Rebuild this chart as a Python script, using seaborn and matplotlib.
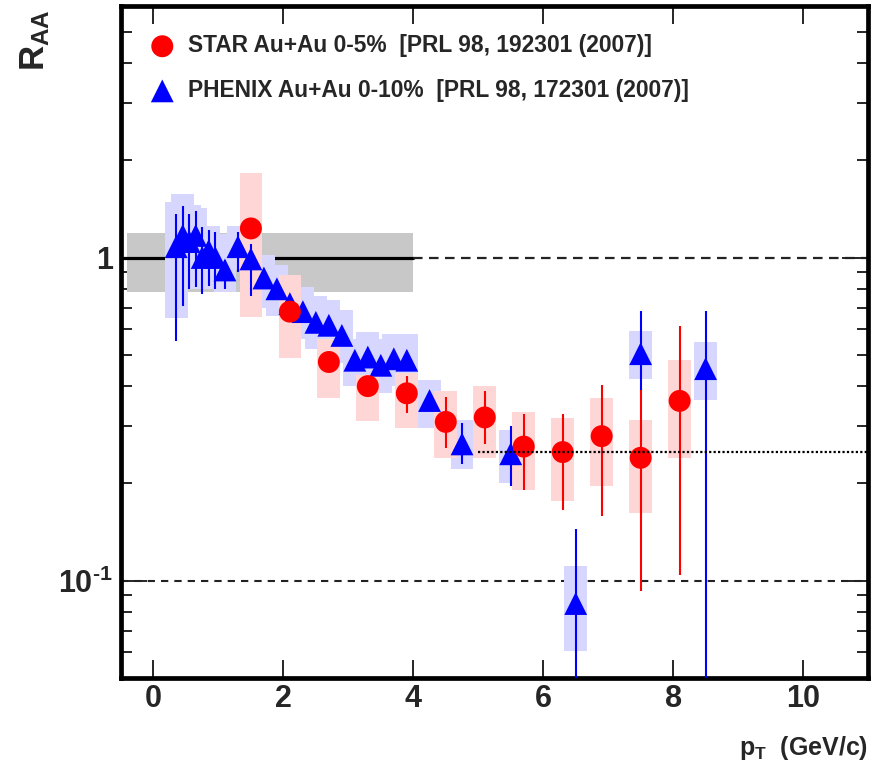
import numpy as np
import matplotlib
matplotlib.use("Agg")
import matplotlib.pyplot as plt
import seaborn as sns
from matplotlib import font_manager
from matplotlib.ticker import LogLocator, NullFormatter, FixedLocator, MultipleLocator, NullLocator

# ---- STAR Au+Au 0-5% ----
star_pt = [1.5, 2.1, 2.7, 3.3, 3.9, 4.5, 5.1, 5.7, 6.3, 6.9, 7.5, 8.1]
star_raa = [1.23, 0.68, 0.475, 0.40, 0.38, 0.31, 0.32, 0.26, 0.25, 0.28, 0.24, 0.36]
star_stat_lo = [1.19, 0.66, 0.46, 0.385, 0.33, 0.258, 0.265, 0.191, 0.166, 0.158, 0.093, 0.104]
star_stat_hi = [1.27, 0.70, 0.49, 0.41, 0.43, 0.369, 0.386, 0.327, 0.327, 0.404, 0.39, 0.613]
star_sys_lo = [0.656, 0.489, 0.368, 0.311, 0.297, 0.24, 0.24, 0.191, 0.177, 0.196, 0.162, 0.24]
star_sys_hi = [1.83, 0.88, 0.56, 0.434, 0.44, 0.386, 0.40, 0.332, 0.319, 0.368, 0.315, 0.483]

# ---- PHENIX Au+Au 0-10% ----
phx_pt = [0.35, 0.45, 0.55, 0.65, 0.75, 0.85, 0.95, 1.1, 1.3, 1.5, 1.7, 1.9, 2.1, 2.3,
          2.5, 2.7, 2.9, 3.1, 3.3, 3.5, 3.7, 3.9, 4.25, 4.75, 5.5, 6.5, 7.5, 8.5]
phx_raa = [1.08, 1.17, 1.12, 1.17, 1.0, 1.05, 1.0, 0.915, 1.08, 0.99, 0.864, 0.80, 0.72, 0.68,
           0.63, 0.617, 0.574, 0.481, 0.492, 0.464, 0.486, 0.481, 0.361, 0.265, 0.247, 0.085, 0.504, 0.453]
phx_stat_lo = [0.55, 0.71, 0.80, 0.81, 0.77, 0.815, 0.80, 0.80, 0.90, 0.76, 0.83, 0.77, 0.69, 0.65,
               0.60, 0.59, 0.55, 0.46, 0.47, 0.44, 0.46, 0.46, 0.34, 0.229, 0.196, 0.01, 0.386, 0.01]
phx_stat_hi = [1.36, 1.44, 1.36, 1.39, 1.24, 1.22, 1.20, 0.98, 1.20, 1.10, 0.90, 0.83, 0.75, 0.71,
               0.66, 0.645, 0.60, 0.50, 0.515, 0.485, 0.51, 0.50, 0.38, 0.308, 0.301, 0.1445, 0.682, 0.682]
phx_sys_lo = [0.65, 0.80, 0.80, 0.85, 0.80, 0.84, 0.82, 0.78, 0.92, 0.82, 0.70, 0.66, 0.60, 0.56,
              0.52, 0.51, 0.47, 0.40, 0.41, 0.38, 0.40, 0.40, 0.297, 0.221, 0.201, 0.0604, 0.421, 0.362]
phx_sys_hi = [1.48, 1.57, 1.45, 1.42, 1.25, 1.25, 1.18, 1.08, 1.25, 1.16, 1.02, 0.95, 0.86, 0.81,
              0.76, 0.74, 0.69, 0.56, 0.59, 0.56, 0.58, 0.58, 0.419, 0.315, 0.292, 0.111, 0.591, 0.548]

# normalisation uncertainty band and reference levels
band_x = [-0.4, 4.0]
band_lo = 0.78
band_hi = 1.19
ref_unity = 1.0
ref_tenth = 0.1
ref_quarter = 0.25

y_ticks = [0.1, 1.0]
y_ticklabels = [r"$10^{\text{-}1}$", "1"]

star_label = "STAR Au+Au 0-5%  [PRL 98, 192301 (2007)]"
phx_label = "PHENIX Au+Au 0-10%  [PRL 98, 172301 (2007)]"

sns.set_style("ticks")
names = {f.name for f in font_manager.fontManager.ttflist}
family = "Liberation Sans Narrow" if "Liberation Sans Narrow" in names else "Liberation Sans"
plt.rcParams["font.family"] = [family, "DejaVu Sans"]
plt.rcParams["font.weight"] = "bold"
plt.rcParams["mathtext.fontset"] = "custom"
plt.rcParams["mathtext.rm"] = f"{family}:bold"
plt.rcParams["mathtext.it"] = f"{family}:bold"
plt.rcParams["mathtext.bf"] = f"{family}:bold"
plt.rcParams["mathtext.default"] = "rm"

fig = plt.figure(figsize=(8.83, 7.77), dpi=100)
ax = fig.add_axes([121 / 883, 99 / 777, 747 / 883, 672 / 777])
ax.set_yscale("log")
ax.set_xlim(-0.5, 11)
ax.set_ylim(0.05, 6)

# band and reference lines
ax.fill_between(band_x, band_lo, band_hi, color="#c8c8c8", lw=0, zorder=1)
ax.plot([-0.5, band_x[1]], [ref_unity, ref_unity], color="black", lw=2.3, zorder=2)
ax.plot([band_x[1], 11], [ref_unity, ref_unity], color="#222222", lw=1.6,
        dashes=(4.3, 2.9), zorder=2)
ax.plot([-0.5, 11], [ref_tenth, ref_tenth], color="#222222", lw=1.5,
        dashes=(3.5, 2.9), zorder=2)

box_w = 0.35
star_pt_a = np.array(star_pt)
star_raa_a = np.array(star_raa)
phx_pt_a = np.array(phx_pt)
phx_raa_a = np.array(phx_raa)

# systematic boxes
ax.bar(phx_pt_a, np.array(phx_sys_hi) - np.array(phx_sys_lo), bottom=phx_sys_lo,
       width=box_w, color="#d6d6ff", lw=0, zorder=3)
ax.bar(star_pt_a, np.array(star_sys_hi) - np.array(star_sys_lo), bottom=star_sys_lo,
       width=box_w, color="#ffd6d6", lw=0, zorder=4)

# statistical error bars and markers
ax.errorbar(phx_pt_a, phx_raa_a,
            yerr=[phx_raa_a - np.array(phx_stat_lo), np.array(phx_stat_hi) - phx_raa_a],
            fmt="none", ecolor="blue", elinewidth=1.5, capsize=0, zorder=5)
sns.scatterplot(x=phx_pt, y=phx_raa, marker="^", s=270, color="blue", edgecolor="none",
                linewidth=0, label=phx_label, ax=ax, zorder=6)
ax.errorbar(star_pt_a, star_raa_a,
            yerr=[star_raa_a - np.array(star_stat_lo), np.array(star_stat_hi) - star_raa_a],
            fmt="none", ecolor="red", elinewidth=1.5, capsize=0, zorder=7)
sns.scatterplot(x=star_pt, y=star_raa, marker="o", s=250, color="red", edgecolor="none",
                linewidth=0, label=star_label, ax=ax, zorder=8)

ax.plot([5.0, 11], [ref_quarter, ref_quarter], color="black", lw=1.6,
        dashes=(1, 1), zorder=9)

# axes styling
for sp in ax.spines.values():
    sp.set_linewidth(3.4)
    sp.set_color("black")
    sp.set_visible(True)
ax.xaxis.set_major_locator(MultipleLocator(2))
ax.xaxis.set_minor_locator(NullLocator())
ax.yaxis.set_major_locator(FixedLocator(y_ticks))
ax.yaxis.set_minor_locator(LogLocator(base=10, subs=np.arange(2, 10)))
ax.yaxis.set_minor_formatter(NullFormatter())
ax.set_yticklabels(y_ticklabels)
ax.tick_params(axis="x", which="major", direction="in", length=13, width=1.4,
               top=True, labelsize=22, pad=4)
ax.tick_params(axis="y", which="major", direction="in", length=19, width=1.4,
               right=True, labelsize=22, pad=6)
ax.tick_params(axis="y", which="minor", direction="in", length=8, width=1.4, right=True)
for lab in ax.get_xticklabels() + ax.get_yticklabels():
    lab.set_fontweight("bold")

ax.set_xlabel("")
ax.set_ylabel("")
ax.text(-0.115, 0.995, "$R_{AA}$", transform=ax.transAxes, rotation=90,
        ha="center", va="top", fontsize=25, fontweight="bold")
ax.text(1.0, -0.1146, "$p_{T}$  (GeV/c)", transform=ax.transAxes,
        ha="right", va="baseline", fontsize=18, fontweight="bold")

handles, labels = ax.get_legend_handles_labels()
order = [labels.index(star_label), labels.index(phx_label)]
leg = ax.legend([handles[i] for i in order], [labels[i] for i in order],
                loc="upper left", bbox_to_anchor=(0.04, 0.958), frameon=False,
                fontsize=16.4, handletextpad=0.65, labelspacing=0.95, borderaxespad=0,
                borderpad=0, handlelength=1.0)
for t in leg.get_texts():
    t.set_fontweight("bold")

fig.savefig("out.png", dpi=100)
